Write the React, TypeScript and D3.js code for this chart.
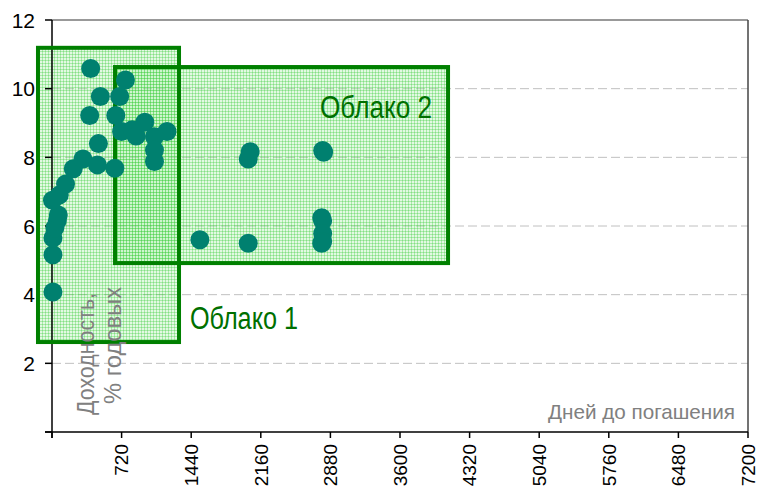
import React from "react";
import * as d3 from "d3";

// ---- data ----
const days = [10, 10, 10, 30, 55, 65, 5, 75, 140, 220, 320, 470, 650, 480, 390, 660, 400, 500, 700, 760, 720, 830, 870, 960, 1190, 1060, 1060, 1060, 1530, 2030, 2050, 2030, 2800, 2810, 2790, 2800, 2800, 2800, 2790];
const yields = [4.08, 5.16, 5.65, 5.95, 6.15, 6.32, 6.75, 6.9, 7.22, 7.67, 7.95, 7.78, 7.68, 8.4, 9.22, 9.22, 10.59, 9.77, 9.77, 10.25, 8.75, 8.8, 8.62, 9.02, 8.75, 8.6, 8.21, 7.88, 5.6, 7.95, 8.16, 5.5, 8.2, 8.15, 6.24, 6.15, 5.78, 5.55, 5.5];

const cloudNames = ["Облако 1", "Облако 2"];
const cloudX0 = [-145, 652];
const cloudX1 = [1314, 4097];
const cloudYTop = [11.19, 10.63];
const cloudYBottom = [2.62, 4.92];

const xTickValues = [0, 720, 1440, 2160, 2880, 3600, 4320, 5040, 5760, 6480, 7200];
const xTickLabels = ["", "720", "1440", "2160", "2880", "3600", "4320", "5040", "5760", "6480", "7200"];
const yTickValues = [0, 2, 4, 6, 8, 10, 12];
const yTickLabels = ["", "2", "4", "6", "8", "10", "12"];

const xTitle = "Дней до погашения";
const yTitle1 = "Доходность,";
const yTitle2 = "% годовых";

export default function App() {
  const x = d3.scaleLinear().domain([0, 7200]).range([52, 748]);
  const y = d3.scaleLinear().domain([0, 12]).range([432, 20]);
  const font = "Arial, 'Liberation Sans', sans-serif";
  const labelPos = [
    { x: 190, y: 329, len: 108 },
    { x: 320, y: 118, len: 112 },
  ];

  return (
    <svg width={760} height={498} style={{ position: "absolute", left: 0, top: 0, background: "#fff" }} fontFamily={font}>
      <defs>
        <pattern id="hatch" width={3} height={3} patternUnits="userSpaceOnUse">
          <rect width={3} height={3} fill="rgba(160,235,160,0.3)" />
          <rect width={3} height={1} fill="rgba(40,200,40,0.3)" />
          <rect width={1} height={3} fill="rgba(40,200,40,0.3)" />
        </pattern>
      </defs>
      {/* gridlines */}
      {yTickValues.filter((v) => v > 0 && v < 12).map((v) => (
        <line key={v} x1={x(0)} x2={x(7200)} y1={y(v)} y2={y(v)} stroke="#c0c0c0" strokeWidth={1} strokeDasharray="9,4" />
      ))}
      <line x1={x(0)} x2={x(7200)} y1={y(12)} y2={y(12)} stroke="#777" strokeWidth={1.5} />
      <line x1={x(7200)} x2={x(7200)} y1={y(12)} y2={y(0)} stroke="#444" strokeWidth={1.5} />
      {/* cloud fills */}
      {cloudNames.map((n, i) => (
        <rect key={n} x={x(cloudX0[i])} y={y(cloudYTop[i])} width={x(cloudX1[i]) - x(cloudX0[i])} height={y(cloudYBottom[i]) - y(cloudYTop[i])} fill="url(#hatch)" />
      ))}
      {/* axes */}
      <line x1={x(0)} x2={x(0)} y1={y(12)} y2={y(0) + 6} stroke="#000" strokeWidth={1.5} />
      <line x1={x(0) - 7} x2={x(7200)} y1={y(0)} y2={y(0)} stroke="#000" strokeWidth={1.5} />
      {yTickValues.map((v) => (
        <line key={"yt" + v} x1={x(0) - 7} x2={x(0)} y1={y(v)} y2={y(v)} stroke="#000" strokeWidth={1.5} />
      ))}
      {xTickValues.map((v) => (
        <line key={"xt" + v} x1={x(v)} x2={x(v)} y1={y(0)} y2={y(0) + 6} stroke="#000" strokeWidth={1.5} />
      ))}
      {/* cloud borders */}
      {cloudNames.map((n, i) => (
        <rect key={"b" + n} x={x(cloudX0[i])} y={y(cloudYTop[i])} width={x(cloudX1[i]) - x(cloudX0[i])} height={y(cloudYBottom[i]) - y(cloudYTop[i])} fill="none" stroke="#008000" strokeWidth={4} />
      ))}
      {/* dots */}
      {days.map((d, i) => (
        <circle key={"p" + i} cx={x(d)} cy={y(yields[i])} r={9.5} fill="#00806f" />
      ))}
      {/* tick labels */}
      {yTickValues.map((v, i) => (
        <text key={"yl" + v} x={35} y={y(v)} dy="0.36em" textAnchor="end" fontSize={21} fill="#000">{yTickLabels[i]}</text>
      ))}
      {xTickValues.map((v, i) => (
        <text key={"xl" + v} transform={`translate(${x(v)},444) rotate(-90)`} dy="0.36em" textAnchor="end" fontSize={19} fill="#000">{xTickLabels[i]}</text>
      ))}
      {/* titles */}
      <text x={548} y={419} fontSize={21} fill="#808080" textLength={187} lengthAdjust="spacingAndGlyphs">{xTitle}</text>
      <text transform="translate(94,415) rotate(-90)" fontSize={23} fill="#808080" textLength={122} lengthAdjust="spacingAndGlyphs">{yTitle1}</text>
      <text transform="translate(121,404) rotate(-90)" fontSize={23} fill="#808080" textLength={117} lengthAdjust="spacingAndGlyphs">{yTitle2}</text>
      {/* cloud labels */}
      {cloudNames.map((n, i) => (
        <text key={"l" + n} x={labelPos[i].x} y={labelPos[i].y} fontSize={31} fill="#007000" textLength={labelPos[i].len} lengthAdjust="spacingAndGlyphs">{n}</text>
      ))}
    </svg>
  );
}
